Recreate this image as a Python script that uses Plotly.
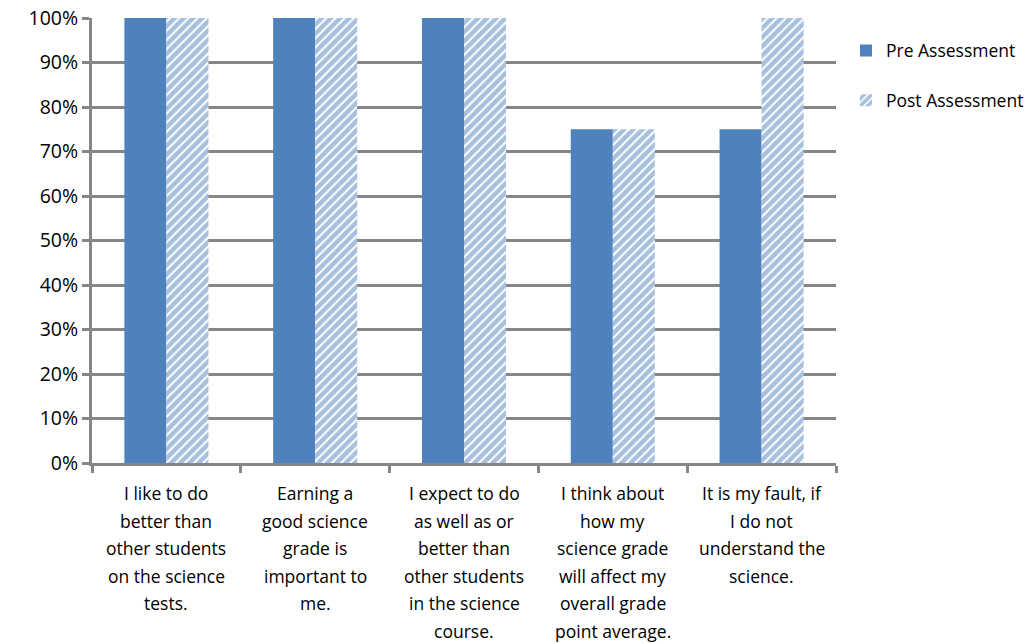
import plotly.graph_objects as go

categories = [
    "I like to do better than other students on the science tests.",
    "Earning a good science grade is important to me.",
    "I expect to do as well as or better than other students in the science course.",
    "I think about how my science grade will affect my overall grade point average.",
    "It is my fault, if I do not understand the science.",
]
label_lines = [
    ["I like to do", "better than", "other students", "on the science", "tests."],
    ["Earning a", "good science", "grade is", "important to", "me."],
    ["I expect to do", "as well as or", "better than", "other students", "in the science", "course."],
    ["I think about", "how my", "science grade", "will affect my", "overall grade", "point average."],
    ["It is my fault, if", "I do not", "understand the", "science."],
]
pre = [1.00, 1.00, 1.00, 0.75, 0.75]
post = [1.00, 1.00, 1.00, 0.75, 1.00]
y_ticks = [i / 10 for i in range(11)]
y_ticktext = [f"{i*10}%" for i in range(11)]

BLUE = "#4F81BD"
GRID = "#868686"
FONT = "Open Sans"

fig = go.Figure()
fig.add_trace(go.Bar(
    x=categories, y=pre, name="Pre Assessment",
    marker=dict(color=BLUE, line=dict(width=0)),
    legendgroup="a",
))
fig.add_trace(go.Bar(
    x=categories, y=post, name="Post Assessment",
    marker=dict(color="white", line=dict(width=0),
                pattern=dict(shape="/", fgcolor=BLUE, bgcolor="white",
                             size=6.5, solidity=0.7, fillmode="overlay")),
    legendgroup="b",
))

annotations = []
for cat, lines in zip(categories, label_lines):
    for i, ln in enumerate(lines):
        annotations.append(dict(
            x=cat, xref="x", y=0, yref="paper", yshift=-(30 + i * 27.5),
            text=ln, showarrow=False, yanchor="middle", xanchor="center",
            font=dict(family=FONT, size=17.5, color="black"),
        ))

fig.update_layout(
    width=1035, height=644,
    margin=dict(l=92, r=199, t=18, b=181, autoexpand=False),
    paper_bgcolor="white", plot_bgcolor="white",
    barmode="group", bargap=0.435, bargroupgap=0,
    font=dict(family=FONT, size=17, color="black"),
    annotations=annotations,
    legend=dict(x=1.0134, y=0.967, xanchor="left", yanchor="top",
                font=dict(family=FONT, size=17.5, color="black"),
                tracegroupgap=24, bgcolor="rgba(0,0,0,0)"),
    showlegend=True,
)
fig.update_xaxes(
    showticklabels=False, showgrid=False, automargin=False,
    showline=True, linecolor=GRID, linewidth=3,
    ticks="outside", tickson="boundaries", ticklen=7, tickwidth=3, tickcolor=GRID,
)
fig.update_yaxes(
    range=[0, 1.0], tickvals=y_ticks, ticktext=y_ticktext, automargin=False,
    showgrid=True, gridcolor=GRID, gridwidth=2.5,
    showline=True, linecolor=GRID, linewidth=3,
    ticks="outside", ticklen=7, tickwidth=3, tickcolor=GRID,
    tickfont=dict(family=FONT, size=19.5, color="black"),
    zeroline=False,
)

fig.write_html(
    "out.html",
    config={"displayModeBar": False},
    post_script="document.body.style.margin='0';document.body.style.overflow='hidden';",
)
